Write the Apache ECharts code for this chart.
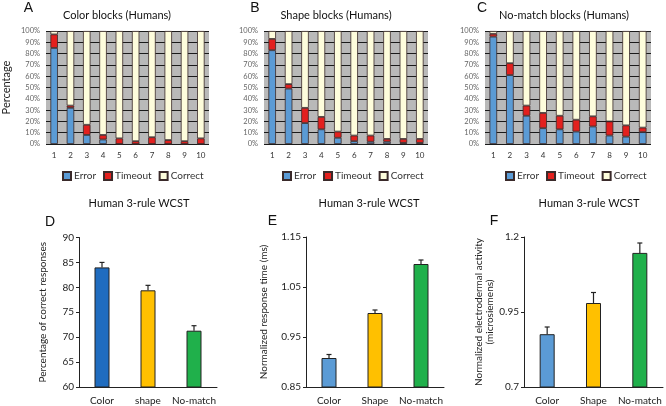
<!DOCTYPE html>
<html>
<head>
<meta charset="utf-8">
<script src="https://cdn.jsdelivr.net/npm/echarts@6/dist/echarts.min.js"></script>
<style>html,body{margin:0;padding:0;background:#fff}#c{width:666px;height:406px}</style>
</head>
<body>
<div id="c"></div>
<script>
// ---- Data ----
const blockLabels = ['1','2','3','4','5','6','7','8','9','10'];
const yPctTicks = [0,10,20,30,40,50,60,70,80,90,100];

const colorError   = [85, 32, 8, 4, 0, 0, 0, 0, 0, 0];
const colorTimeout = [12, 2, 9, 4, 5, 2.5, 6, 3.5, 2.5, 5];
const colorCorrect = [3, 66, 83, 92, 95, 97.5, 94, 96.5, 97.5, 95];

const shapeError   = [83, 49, 18.5, 13, 5.5, 2.5, 2, 2, 1, 1];
const shapeTimeout = [10, 4, 13.5, 11, 5.5, 5, 5.5, 2.5, 3.5, 3.5];
const shapeCorrect = [7, 47, 68, 76, 89, 92.5, 92.5, 95.5, 95.5, 95.5];

const nomatchError   = [95, 61, 25, 14, 13, 11, 15.5, 7.5, 6.5, 10.5];
const nomatchTimeout = [2.5, 10.5, 9, 13.5, 12, 10.5, 9, 12.5, 10, 4];
const nomatchCorrect = [2.5, 28.5, 66, 72.5, 75, 78.5, 75.5, 80, 83.5, 85.5];

const condD  = ['Color', 'shape', 'No-match'];
const condEF = ['Color', 'Shape', 'No-match'];
const correctPct = [84.0, 79.4, 71.3];
const correctErr = [1.0, 1.0, 1.0];
const rtNorm = [0.908, 0.998, 1.096];
const rtErr  = [0.007, 0.006, 0.008];
const edaNorm = [0.876, 0.980, 1.147];
const edaErr  = [0.024, 0.035, 0.033];

// ---- Styles ----
const FONT = 'Lato';
const cErr = '#5B9BD5', cTime = '#E3201E', cCorr = '#FEFDDC';
const barColorsD = ['#1F6CBF', '#FFC000', '#20B04B'];
const barColorsEF = ['#5B9BD5', '#FFC000', '#20B04B'];

const chart = echarts.init(document.getElementById('c'), null, {renderer: 'canvas'});

const grids = [
  {left: 45, top: 31, width: 164, height: 113, show: true, backgroundColor: '#B9B9B9', borderWidth: 0},
  {left: 264, top: 31, width: 164, height: 113, show: true, backgroundColor: '#B9B9B9', borderWidth: 0},
  {left: 485, top: 31, width: 166, height: 113, show: true, backgroundColor: '#B9B9B9', borderWidth: 0},
  {left: 79, top: 237.5, width: 138, height: 150},
  {left: 306, top: 237, width: 138, height: 152},
  {left: 524, top: 237, width: 139, height: 152}
];

const xAxes = [], yAxes = [];
for (let i = 0; i < 3; i++) {
  xAxes.push({
    type: 'category', gridIndex: i, data: blockLabels,
    axisLine: {show: false}, axisTick: {show: false},
    axisLabel: {fontFamily: FONT, fontSize: 8, color: '#333', margin: 7, interval: 0}
  });
  yAxes.push({
    type: 'value', gridIndex: i, min: 0, max: 100, interval: 10,
    axisLine: {show: false}, axisTick: {show: false},
    axisLabel: {fontFamily: FONT, fontSize: 7.5, color: '#666', margin: 6, formatter: '{value}%'},
    splitLine: {show: true, lineStyle: {color: '#1a1a1a', width: 1}},
    name: i === 0 ? 'Percentage' : '', nameLocation: 'middle', nameGap: 34, nameRotate: 90,
    nameTextStyle: {fontFamily: FONT, fontSize: 11, color: '#222'}
  });
}
const bottomCats = [condD, condEF, condEF];
const bottomY = [
  {min: 60, max: 90, interval: 5, name: 'Percentage of correct responses', gap: 31, fmt: v => String(v)},
  {min: 0.85, max: 1.15, interval: 0.1, name: 'Normalized response time (ms)', gap: 37, fmt: v => v.toFixed(2)},
  {min: 0.7, max: 1.2, interval: 0.25, name: 'Normalized electrodermal activity\n(microsiemens)', gap: 27, fmt: v => (Math.round(v*100)/100).toString()}
];
for (let j = 0; j < 3; j++) {
  const g = 3 + j;
  xAxes.push({
    type: 'category', gridIndex: g, data: bottomCats[j],
    axisLine: {show: true, lineStyle: {color: '#222', width: 1}}, axisTick: {show: false},
    axisLabel: {fontFamily: FONT, fontSize: 10, color: '#222', margin: 9, interval: 0}
  });
  const b = bottomY[j];
  yAxes.push({
    type: 'value', gridIndex: g, min: b.min, max: b.max, interval: b.interval,
    axisLine: {show: true, lineStyle: {color: '#222', width: 1}},
    axisTick: {show: true, length: 3, lineStyle: {color: '#222'}},
    axisLabel: {fontFamily: FONT, fontSize: 10, color: '#222', margin: 5, formatter: b.fmt},
    splitLine: {show: false},
    name: b.name, nameLocation: 'middle', nameGap: b.gap, nameRotate: 90,
    nameTextStyle: {fontFamily: FONT, fontSize: 10, color: '#222', lineHeight: 11}
  });
}

const series = [];
const topSets = [
  [colorError, colorTimeout, colorCorrect],
  [shapeError, shapeTimeout, shapeCorrect],
  [nomatchError, nomatchTimeout, nomatchCorrect]
];
const topNames = ['Error', 'Timeout', 'Correct'];
const topColors = [cErr, cTime, cCorr];
for (let i = 0; i < 3; i++) {
  for (let k = 0; k < 3; k++) {
    series.push({
      type: 'bar', name: topNames[k], xAxisIndex: i, yAxisIndex: i, stack: 'p' + i,
      data: topSets[i][k], barWidth: '46%',
      itemStyle: {color: topColors[k], borderColor: '#3a2a2a', borderWidth: 0.8},
      emphasis: {disabled: true}, animation: false
    });
  }
}
const bottomVals = [correctPct, rtNorm, edaNorm];
const bottomErrs = [correctErr, rtErr, edaErr];
const bottomColors = [barColorsD, barColorsEF, barColorsEF];
for (let j = 0; j < 3; j++) {
  const g = 3 + j;
  const cols = bottomColors[j];
  series.push({
    type: 'bar', name: 'b' + j, xAxisIndex: g, yAxisIndex: g, barWidth: 15,
    data: bottomVals[j].map((v, idx) => ({value: v, itemStyle: {color: cols[idx]}})),
    itemStyle: {borderColor: '#222', borderWidth: 1},
    emphasis: {disabled: true}, animation: false
  });
  const vals = bottomVals[j], errs = bottomErrs[j];
  series.push({
    type: 'custom', name: 'e' + j, xAxisIndex: g, yAxisIndex: g,
    data: vals.map((v, idx) => [idx, v, v + errs[idx]]),
    renderItem: function (params, api) {
      const p0 = api.coord([api.value(0), api.value(1)]);
      const p1 = api.coord([api.value(0), api.value(2)]);
      return {
        type: 'group',
        children: [
          {type: 'line', shape: {x1: p0[0], y1: p0[1], x2: p1[0], y2: p1[1]}, style: {stroke: '#222', lineWidth: 1.2}},
          {type: 'line', shape: {x1: p1[0] - 2.5, y1: p1[1], x2: p1[0] + 2.5, y2: p1[1]}, style: {stroke: '#222', lineWidth: 1.2}}
        ]
      };
    },
    z: 5, animation: false
  });
}

const legendCommon = {
  data: topNames, orient: 'horizontal', itemWidth: 8, itemHeight: 8, itemGap: 7,
  icon: 'rect', selectedMode: false,
  textStyle: {fontFamily: FONT, fontSize: 10, color: '#333', padding: [0, 0, 0, -2]}
};
const legends = [
  Object.assign({}, legendCommon, {left: 57, top: 166}),
  Object.assign({}, legendCommon, {left: 277, top: 166}),
  Object.assign({}, legendCommon, {left: 500, top: 166})
];

function txt(x, y, text, size, family) {
  return {type: 'text', x: x, y: y, silent: true,
    style: {text: text, fontFamily: family || FONT, fontSize: size, fill: '#111', textAlign: 'center', textVerticalAlign: 'middle'}};
}
const graphics = [
  txt(117, 15, 'Color blocks (Humans)', 11),
  txt(336, 15, 'Shape blocks (Humans)', 11),
  txt(564, 15, 'No-match blocks (Humans)', 11),
  txt(139, 203, 'Human 3-rule WCST', 11),
  txt(369, 203, 'Human 3-rule WCST', 11),
  txt(589, 203, 'Human 3-rule WCST', 11),
  txt(28.5, 8, 'A', 14, 'Liberation Sans'),
  txt(255, 8, 'B', 14, 'Liberation Sans'),
  txt(482, 8, 'C', 14, 'Liberation Sans'),
  txt(50, 222.5, 'D', 14, 'Liberation Sans'),
  txt(272.5, 221.5, 'E', 14, 'Liberation Sans'),
  txt(494, 221.5, 'F', 14, 'Liberation Sans')
];

chart.setOption({
  animation: false,
  backgroundColor: '#ffffff',
  grid: grids,
  xAxis: xAxes,
  yAxis: yAxes,
  legend: legends,
  series: series,
  graphic: graphics
});
</script>
</body>
</html>
